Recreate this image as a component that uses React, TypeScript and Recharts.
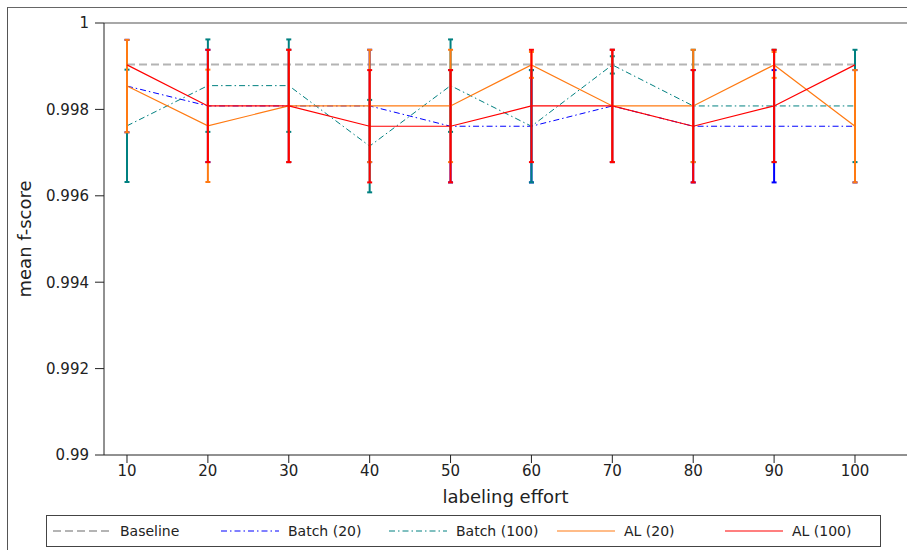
import { LineChart, Line, XAxis, YAxis, ErrorBar, ReferenceLine } from 'recharts'

const FONT = '"DejaVu Sans", sans-serif'

// labeling effort
const efforts = [10, 20, 30, 40, 50, 60, 70, 80, 90, 100]

// mean f-score per series
const baseline = [0.99904, 0.99904, 0.99904, 0.99904, 0.99904, 0.99904, 0.99904, 0.99904, 0.99904, 0.99904]
const batch20 = [0.99854, 0.99808, 0.99808, 0.99808, 0.99761, 0.99761, 0.99808, 0.99761, 0.99761, 0.99761]
const batch100 = [0.99762, 0.99855, 0.99855, 0.99715, 0.99855, 0.99761, 0.99903, 0.99808, 0.99808, 0.99808]
const al20 = [0.99854, 0.99762, 0.99808, 0.99808, 0.99808, 0.99903, 0.99808, 0.99808, 0.99903, 0.99761]
const al100 = [0.99903, 0.99808, 0.99808, 0.99761, 0.99761, 0.99808, 0.99808, 0.99761, 0.99808, 0.99903]

// error bar half-widths (std)
const batch20Err = [0.00107, 0.0013, 0.0013, 0.0013, 0.0013, 0.0013, 0.0013, 0.0013, 0.0013, 0.0013]
const batch100Err = [0.0013, 0.00107, 0.00107, 0.00107, 0.00107, 0.0013, 0.0002, 0.0013, 0.0013, 0.0013]
const al20Err = [0.00107, 0.0013, 0.0013, 0.0013, 0.0013, 0.0003, 0.0013, 0.0013, 0.0003, 0.0013]
const al100Err = [0, 0.0013, 0.0013, 0.0013, 0.0013, 0.0013, 0.0013, 0.0013, 0.0013, 0]

const xTicks = [10, 20, 30, 40, 50, 60, 70, 80, 90, 100]
const yTicks = [0.99, 0.992, 0.994, 0.996, 0.998, 1]

const data = efforts.map((x, i) => ({
  x,
  baseline: baseline[i],
  batch20: batch20[i],
  batch100: batch100[i],
  al20: al20[i],
  al100: al100[i],
  batch20Err: batch20Err[i],
  batch100Err: batch100Err[i],
  al20Err: al20Err[i],
  al100Err: al100Err[i],
}))

const BLUE = '#0000ff'
const TEAL = '#008080'
const ORANGE = '#ff7a12'
const RED = '#ff0000'
const GRAY = '#b4b4b4'
const DASHDOT = '6 3 1.5 3'

const legendItems = [
  { label: 'Baseline', color: GRAY, dash: '8 4', width: 2 },
  { label: 'Batch (20)', color: BLUE, dash: DASHDOT, width: 1 },
  { label: 'Batch (100)', color: TEAL, dash: DASHDOT, width: 1 },
  { label: 'AL (20)', color: ORANGE, dash: undefined, width: 1.2 },
  { label: 'AL (100)', color: RED, dash: undefined, width: 1.2 },
]

export default function App() {
  const tickStyle = { fill: '#222', fontSize: 15, fontFamily: FONT }
  return (
    <div style={{ position: 'absolute', left: 0, top: 0, width: 907, height: 550, background: '#fff', fontFamily: FONT, overflow: 'hidden' }}>
      {/* figure frame */}
      <div style={{ position: 'absolute', left: 7, top: 7, width: 910, height: 560, borderLeft: '1px solid #555', borderTop: '1px solid #666' }} />

      <div style={{ position: 'absolute', left: 0, top: 0 }}>
        <LineChart width={907} height={550} data={data} margin={{ top: 23, right: 0, bottom: 0, left: 0 }}>
          <XAxis
            dataKey="x"
            type="number"
            domain={[7.157, 106.43]}
            ticks={xTicks}
            allowDataOverflow
            height={95}
            tickSize={8}
            tickMargin={2}
            stroke="#222"
            tick={tickStyle}
            label={{ value: 'labeling effort', position: 'center', dy: -6, fill: '#222', fontSize: 18, fontFamily: FONT }}
          />
          <YAxis
            type="number"
            domain={[0.99, 1]}
            ticks={yTicks}
            allowDataOverflow
            width={104}
            tickSize={9}
            tickMargin={6}
            stroke="#222"
            tick={tickStyle}
            tickFormatter={(v: number) => String(parseFloat(v.toFixed(3)))}
            label={{ value: 'mean f-score', angle: -90, position: 'center', dx: -27, fill: '#222', fontSize: 18, fontFamily: FONT }}
          />
          <ReferenceLine y={1} stroke="#a8a8a8" strokeWidth={2} />

          <Line dataKey="baseline" stroke={GRAY} strokeWidth={2} strokeDasharray="8 4" dot={false} isAnimationActive={false} />
          <Line dataKey="batch20" stroke={BLUE} strokeWidth={1} strokeDasharray={DASHDOT} dot={false} isAnimationActive={false}>
            <ErrorBar dataKey="batch20Err" direction="y" width={2.5} strokeWidth={2} stroke={BLUE} isAnimationActive={false} />
          </Line>
          <Line dataKey="batch100" stroke={TEAL} strokeWidth={1} strokeDasharray={DASHDOT} dot={false} isAnimationActive={false}>
            <ErrorBar dataKey="batch100Err" direction="y" width={2.5} strokeWidth={2} stroke={TEAL} isAnimationActive={false} />
          </Line>
          <Line dataKey="al20" stroke={ORANGE} strokeWidth={1.2} dot={false} isAnimationActive={false}>
            <ErrorBar dataKey="al20Err" direction="y" width={2.5} strokeWidth={2} stroke={ORANGE} isAnimationActive={false} />
          </Line>
          <Line dataKey="al100" stroke={RED} strokeWidth={1.2} dot={false} isAnimationActive={false}>
            <ErrorBar dataKey="al100Err" direction="y" width={2.5} strokeWidth={2} stroke={RED} isAnimationActive={false} />
          </Line>
        </LineChart>
      </div>

      {/* legend */}
      <div style={{ position: 'absolute', left: 46, top: 515, width: 833, height: 30, border: '1px solid #444', background: '#fff' }}>
        {legendItems.map((it, i) => (
          <div key={it.label} style={{ position: 'absolute', left: 6 + i * 168, top: 0, height: 30, display: 'flex', alignItems: 'center' }}>
            <svg width={58} height={10} style={{ display: 'block' }}>
              <line x1={0} y1={5} x2={58} y2={5} stroke={it.color} strokeWidth={it.width} strokeDasharray={it.dash} />
            </svg>
            <span style={{ marginLeft: 9, fontSize: 14, color: '#222', whiteSpace: 'nowrap' }}>{it.label}</span>
          </div>
        ))}
      </div>
    </div>
  )
}
